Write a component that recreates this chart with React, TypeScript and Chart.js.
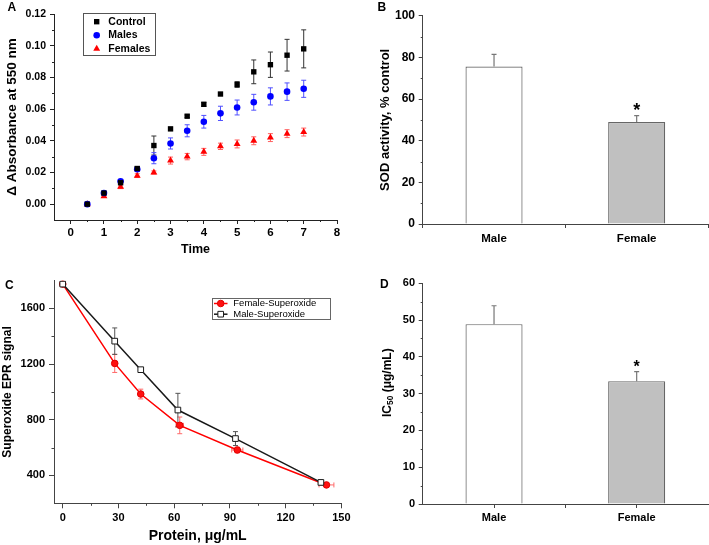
import React, { useEffect, useRef } from "react";
import { Chart, registerables } from "chart.js";

Chart.register(...registerables);

const FONT = "'Liberation Sans', Arial, Helvetica, sans-serif";
Chart.defaults.font.family = FONT;
Chart.defaults.color = "#000";

// ---------------- Panel A data ----------------
const timePoints = [0.5, 1, 1.5, 2, 2.5, 3, 3.5, 4, 4.5, 5, 5.5, 6, 6.5, 7];
const controlValues = [0, 0.007, 0.0135, 0.0225, 0.037, 0.0475, 0.0555, 0.063, 0.0695, 0.0755, 0.0835, 0.088, 0.094, 0.098];
const controlErrors = [0.0005, 0.0008, 0.001, 0.0012, 0.006, 0.001, 0.0008, 0.0012, 0.0008, 0.0018, 0.0075, 0.008, 0.010, 0.012];
const maleValues = [0, 0.007, 0.0145, 0.022, 0.029, 0.0383, 0.0463, 0.052, 0.0573, 0.061, 0.0643, 0.068, 0.071, 0.0728];
const maleErrors = [0.0005, 0.0008, 0.001, 0.0012, 0.0035, 0.0035, 0.0038, 0.004, 0.0045, 0.0047, 0.005, 0.0054, 0.0055, 0.0054];
const femaleValues = [0, 0.005, 0.011, 0.018, 0.020, 0.0275, 0.030, 0.033, 0.0365, 0.038, 0.040, 0.042, 0.0445, 0.0455];
const femaleErrors = [0.0005, 0.0008, 0.0012, 0.0012, 0.001, 0.0022, 0.002, 0.0022, 0.002, 0.0025, 0.0025, 0.0025, 0.0025, 0.0025];
const timeTicks = [0, 1, 2, 3, 4, 5, 6, 7, 8];
const timeMinorTicks = [0.5, 1.5, 2.5, 3.5, 4.5, 5.5, 6.5, 7.5];
const absorbanceTicks = [0, 0.02, 0.04, 0.06, 0.08, 0.10, 0.12];
const absorbanceMinorTicks = [0.01, 0.03, 0.05, 0.07, 0.09, 0.11];

// ---------------- Panel B data ----------------
const sexCategories = ["Male", "Female"];
const sodValues = [75.6, 49];
const sodErrors = [5.8, 3];
const sodTicks = [0, 20, 40, 60, 80, 100];
const sodMinorTicks = [10, 30, 50, 70, 90];

// ---------------- Panel C data ----------------
const femaleProtein = [0, 28, 42, 63, 94, 142];
const femaleEpr = [1775, 1205, 985, 760, 583, 332];
const femaleEprErr = [0, 65, 35, 60, 20, 10];
const femaleProteinErr = [0, 0, 0, 2, 3, 4];
const maleProtein = [0, 28, 42, 62, 93, 139];
const maleEpr = [1775, 1365, 1160, 870, 665, 350];
const maleEprErr = [0, 95, 15, 120, 50, 10];
const proteinTicks = [0, 30, 60, 90, 120, 150];
const proteinMinorTicks = [15, 45, 75, 105, 135];
const eprTicks = [400, 800, 1200, 1600];
const eprMinorTicks = [600, 1000, 1400];

// ---------------- Panel D data ----------------
const ic50Values = [48.9, 33.4];
const ic50Errors = [5, 2.6];
const ic50Ticks = [0, 10, 20, 30, 40, 50, 60];
const ic50MinorTicks = [5, 15, 25, 35, 45, 55];

// ---------------- plugins ----------------
function drawMarker(ctx, style, x, y, r, fill, stroke, bw) {
  ctx.beginPath();
  if (style === "rect") {
    const s = r * Math.SQRT1_2;
    ctx.rect(x - s, y - s, 2 * s, 2 * s);
  } else if (style === "triangle") {
    let rad = 0;
    ctx.moveTo(x + Math.sin(rad) * r, y - Math.cos(rad) * r);
    rad += (2 * Math.PI) / 3;
    ctx.lineTo(x + Math.sin(rad) * r, y - Math.cos(rad) * r);
    rad += (2 * Math.PI) / 3;
    ctx.lineTo(x + Math.sin(rad) * r, y - Math.cos(rad) * r);
    ctx.closePath();
  } else {
    ctx.arc(x, y, r, 0, Math.PI * 2);
  }
  ctx.fillStyle = fill;
  ctx.fill();
  if (bw) {
    ctx.lineWidth = bw;
    ctx.strokeStyle = stroke;
    ctx.stroke();
  }
}

const minorTicksPlugin = {
  id: "minorTicks",
  afterDraw(chart, _a, opts) {
    const ctx = chart.ctx;
    (opts.items || []).forEach((item) => {
      const scale = chart.scales[item.axis];
      ctx.save();
      ctx.strokeStyle = item.color;
      ctx.lineWidth = 1;
      item.values.forEach((v) => {
        const p = Math.round(scale.getPixelForValue(v)) + 0.5;
        ctx.beginPath();
        if (scale.isHorizontal()) {
          const y = scale.top;
          ctx.moveTo(p, y);
          ctx.lineTo(p, y + item.len);
        } else {
          const x = scale.right;
          ctx.moveTo(x - item.len, p);
          ctx.lineTo(x, p);
        }
        ctx.stroke();
      });
      ctx.restore();
    });
  },
};

function drawErrorBars(chart) {
  const ctx = chart.ctx;
  chart.data.datasets.forEach((ds, i) => {
    const eb = ds.errorBars;
    if (!eb) return;
    const meta = chart.getDatasetMeta(i);
    const xs = chart.scales[meta.xAxisID];
    const ys = chart.scales[meta.yAxisID];
    ctx.save();
    ctx.strokeStyle = eb.color;
    ctx.lineWidth = eb.width || 1;
    const cap = eb.cap || 2.5;
    meta.data.forEach((el, j) => {
      const raw = ds.data[j];
      const yv = typeof raw === "number" ? raw : raw.y;
      const px = el.x;
      const py = ys.getPixelForValue(yv);
      const ey = eb.y ? eb.y[j] : 0;
      if (ey) {
        const top = ys.getPixelForValue(yv + ey);
        const bot = eb.upOnly ? py : ys.getPixelForValue(yv - ey);
        ctx.beginPath();
        ctx.moveTo(px, top);
        ctx.lineTo(px, bot);
        ctx.moveTo(px - cap, top);
        ctx.lineTo(px + cap, top);
        if (!eb.upOnly) {
          ctx.moveTo(px - cap, bot);
          ctx.lineTo(px + cap, bot);
        }
        ctx.stroke();
      }
      const ex = eb.x ? eb.x[j] : 0;
      if (ex && typeof raw !== "number") {
        const l = xs.getPixelForValue(raw.x - ex);
        const r = xs.getPixelForValue(raw.x + ex);
        ctx.beginPath();
        ctx.moveTo(l, py);
        ctx.lineTo(r, py);
        ctx.moveTo(l, py - cap);
        ctx.lineTo(l, py + cap);
        ctx.moveTo(r, py - cap);
        ctx.lineTo(r, py + cap);
        ctx.stroke();
      }
    });
    ctx.restore();
  });
}

const errorBarsPlugin = {
  id: "errorBars",
  beforeDatasetsDraw(chart, _a, opts) {
    if (!opts.after) drawErrorBars(chart);
  },
  afterDatasetsDraw(chart, _a, opts) {
    if (opts.after) drawErrorBars(chart);
  },
};

const boxLegendPlugin = {
  id: "boxLegend",
  afterDraw(chart, _a, o) {
    if (!o || o.x == null) return;
    const ctx = chart.ctx;
    ctx.save();
    ctx.strokeStyle = o.borderColor;
    ctx.lineWidth = 1;
    ctx.strokeRect(Math.round(o.x) + 0.5, Math.round(o.y) + 0.5, o.w, o.h);
    chart.data.datasets.forEach((ds, i) => {
      const cy = o.firstRowY + i * o.rowGap;
      if (o.lineFrom != null) {
        ctx.beginPath();
        ctx.strokeStyle = ds.borderColor;
        ctx.lineWidth = ds.borderWidth;
        ctx.moveTo(o.lineFrom, cy);
        ctx.lineTo(o.lineTo, cy);
        ctx.stroke();
      }
      drawMarker(
        ctx,
        ds.pointStyle,
        o.markerX,
        cy,
        ds.pointRadius,
        ds.pointBackgroundColor || ds.backgroundColor,
        ds.pointBorderColor || ds.borderColor,
        ds.pointBorderWidth || 0
      );
      ctx.font = o.font;
      ctx.textBaseline = "middle";
      ctx.textAlign = "left";
      ctx.fillStyle = "#000";
      ctx.fillText(ds.label, o.textX, cy);
    });
    ctx.restore();
  },
};

const starPlugin = {
  id: "star",
  afterDatasetsDraw(chart, _a, o) {
    if (!o || o.dataset == null) return;
    const ds = chart.data.datasets[o.dataset];
    const el = chart.getDatasetMeta(o.dataset).data[o.index];
    const ys = chart.scales.y;
    const top = ys.getPixelForValue(ds.data[o.index] + ds.errorBars.y[o.index]);
    const ctx = chart.ctx;
    ctx.save();
    ctx.font = `bold ${o.size}px ${FONT}`;
    ctx.textAlign = "center";
    ctx.textBaseline = "alphabetic";
    ctx.fillStyle = "#000";
    ctx.fillText("*", el.x, top - o.gap + 0.57 * o.size);
    ctx.restore();
  },
};

const subTitlePlugin = {
  id: "subTitle",
  afterDraw(chart, _a, o) {
    if (!o || !o.parts) return;
    const ctx = chart.ctx;
    const ca = chart.chartArea;
    ctx.save();
    ctx.translate(o.x, (ca.top + ca.bottom) / 2 + o.dy);
    ctx.rotate(-Math.PI / 2);
    ctx.textBaseline = "middle";
    ctx.textAlign = "left";
    ctx.fillStyle = "#000";
    const fontFor = (p) => `bold ${p.sub ? o.size * 0.7 : o.size}px ${FONT}`;
    let total = 0;
    o.parts.forEach((p) => {
      ctx.font = fontFor(p);
      total += ctx.measureText(p.text).width;
    });
    let cx = -total / 2;
    o.parts.forEach((p) => {
      ctx.font = fontFor(p);
      ctx.fillText(p.text, cx, p.sub ? o.size * 0.3 : 0);
      cx += ctx.measureText(p.text).width;
    });
    ctx.restore();
  },
};

const allPlugins = [minorTicksPlugin, errorBarsPlugin, boxLegendPlugin, starPlugin, subTitlePlugin];

function fixedTicks(values) {
  return (s) => {
    s.ticks = values.map((v) => ({ value: v }));
  };
}

// ---------------- configs ----------------
function configA() {
  const axisColor = "#222";
  return {
    type: "scatter",
    data: {
      datasets: [
        {
          label: "Control",
          data: timePoints.map((x, i) => ({ x, y: controlValues[i] })),
          pointStyle: "rect",
          pointRadius: 3.8,
          backgroundColor: "#000",
          borderColor: "#000",
          pointBorderWidth: 0,
          borderWidth: 0,
          errorBars: { y: controlErrors, color: "#333", cap: 2.5 },
        },
        {
          label: "Males",
          data: timePoints.map((x, i) => ({ x, y: maleValues[i] })),
          pointStyle: "circle",
          pointRadius: 3.3,
          backgroundColor: "#0000ff",
          borderColor: "#0000ff",
          pointBorderWidth: 0,
          borderWidth: 0,
          errorBars: { y: maleErrors, color: "#5050ff", cap: 2.5 },
        },
        {
          label: "Females",
          data: timePoints.map((x, i) => ({ x, y: femaleValues[i] })),
          pointStyle: "triangle",
          pointRadius: 4,
          backgroundColor: "#ff0000",
          borderColor: "#ff0000",
          pointBorderWidth: 0,
          borderWidth: 0,
          errorBars: { y: femaleErrors, color: "#ff6060", cap: 2.5 },
        },
      ],
    },
    options: {
      responsive: false,
      animation: false,
      devicePixelRatio: 1,
      layout: { padding: { top: 14, right: 17, left: 0, bottom: 0 } },
      plugins: {
        legend: { display: false },
        tooltip: { enabled: false },
        minorTicks: {
          items: [
            { axis: "x", values: timeMinorTicks, len: 2, color: axisColor },
            { axis: "y", values: absorbanceMinorTicks, len: 2, color: axisColor },
          ],
        },
        boxLegend: {
          x: 83, y: 13, w: 72, h: 42,
          borderColor: "#555",
          firstRowY: 21.7, rowGap: 13.5,
          markerX: 96.7, textX: 108.3,
          font: `bold 10.5px ${FONT}`,
        },
      },
      scales: {
        x: {
          type: "linear",
          min: -0.5,
          max: 8,
          afterBuildTicks: fixedTicks(timeTicks),
          afterFit: (s) => { s.height = 50; },
          grid: { drawOnChartArea: false, tickLength: 4, color: axisColor },
          border: { color: axisColor, width: 1 },
          ticks: { font: { size: 11.5, weight: "bold" }, padding: 2, color: "#000", autoSkip: false, maxRotation: 0 },
          title: { display: true, text: "Time", font: { size: 12.5, weight: "bold" }, padding: { top: 0, bottom: 12.5 }, color: "#000" },
        },
        y: {
          type: "linear",
          min: -0.01,
          max: 0.12,
          afterBuildTicks: fixedTicks(absorbanceTicks),
          afterFit: (s) => { s.width = 54; },
          grid: { drawOnChartArea: false, tickLength: 4, color: axisColor },
          border: { color: axisColor, width: 1 },
          ticks: { font: { size: 10.5, weight: "bold" }, padding: 4, color: "#000", autoSkip: false, callback: (v) => Number(v).toFixed(2) },
          title: { display: true, text: "Δ Absorbance at 550 nm", font: { size: 13.5, weight: "bold" }, padding: { top: 4.5, bottom: 0 }, color: "#000" },
        },
      },
    },
    plugins: allPlugins,
  };
}

function barConfig(values, errors, ticks, minor, max, opts) {
  const axisColor = "#444";
  return {
    type: "bar",
    data: {
      labels: sexCategories,
      datasets: [
        {
          label: opts.label,
          data: values,
          backgroundColor: ["#ffffff", "#c0c0c0"],
          borderColor: "#666",
          borderWidth: 1.2,
          borderSkipped: "bottom",
          barPercentage: 0.4,
          categoryPercentage: 1,
          errorBars: { y: errors, color: "#777", upOnly: true, cap: 2.5, width: 1.2 },
        },
      ],
    },
    options: {
      responsive: false,
      animation: false,
      devicePixelRatio: 1,
      layout: { padding: { top: opts.padTop, right: 1, left: 0, bottom: 0 } },
      plugins: {
        legend: { display: false },
        tooltip: { enabled: false },
        errorBars: { after: true },
        minorTicks: {
          items: [
            { axis: "y", values: minor, len: 2, color: axisColor },
            ...(opts.xMinor ? [{ axis: "x", values: opts.xMinor, len: 4, color: axisColor }] : []),
          ],
        },
        star: { dataset: 0, index: 1, size: opts.starSize, gap: opts.starGap },
        subTitle: opts.subTitle || {},
      },
      scales: {
        x: {
          type: "category",
          offset: true,
          afterFit: (s) => { s.height = opts.xHeight; },
          grid: { drawOnChartArea: false, tickLength: 4, color: axisColor, offset: opts.gridOffset },
          border: { color: axisColor, width: 1 },
          ticks: { font: { size: opts.catSize, weight: "bold" }, padding: opts.catPad, color: "#000" },
        },
        y: {
          type: "linear",
          min: 0,
          max,
          afterBuildTicks: fixedTicks(ticks),
          afterFit: (s) => { s.width = 68.7; },
          grid: { drawOnChartArea: false, tickLength: 4, color: axisColor },
          border: { color: axisColor, width: 1 },
          ticks: { font: { size: opts.tickSize, weight: "bold" }, padding: 3.7, color: "#000", autoSkip: false },
          title: opts.yTitle
            ? { display: true, text: opts.yTitle, font: { size: 13, weight: "bold" }, padding: { top: 24, bottom: 0 }, color: "#000" }
            : { display: false },
        },
      },
    },
    plugins: allPlugins,
  };
}

function configB() {
  return barConfig(sodValues, sodErrors, sodTicks, sodMinorTicks, 100, {
    label: "SOD activity",
    padTop: 15.7,
    xHeight: 46,
    catSize: 11.5,
    catPad: 4,
    tickSize: 12,
    starSize: 18,
    starGap: 9.7,
    gridOffset: true,
    yTitle: "SOD activity, % control",
  });
}

function configD() {
  return barConfig(ic50Values, ic50Errors, ic50Ticks, ic50MinorTicks, 60, {
    label: "IC50",
    padTop: 13.3,
    xHeight: 41,
    catSize: 11,
    catPad: 3.3,
    tickSize: 11,
    starSize: 16,
    starGap: 9,
    gridOffset: false,
    xMinor: [0.5],
    subTitle: {
      x: 33.5,
      dy: -11,
      size: 12,
      parts: [
        { text: "IC", sub: false },
        { text: "50", sub: true },
        { text: " (μg/mL)", sub: false },
      ],
    },
  });
}

function configC() {
  const axisColor = "#444";
  return {
    type: "line",
    data: {
      datasets: [
        {
          label: "Female-Superoxide",
          data: femaleProtein.map((x, i) => ({ x, y: femaleEpr[i] })),
          borderColor: "#ff0000",
          borderWidth: 1.5,
          pointStyle: "circle",
          pointRadius: 3.3,
          pointBackgroundColor: "#ff1010",
          pointBorderColor: "#e00000",
          pointBorderWidth: 1,
          tension: 0,
          fill: false,
          order: 1,
          errorBars: { y: femaleEprErr, x: femaleProteinErr, color: "#ff6a6a", cap: 2.5 },
        },
        {
          label: "Male-Superoxide",
          data: maleProtein.map((x, i) => ({ x, y: maleEpr[i] })),
          borderColor: "#1a1a1a",
          borderWidth: 1.5,
          pointStyle: "rect",
          pointRadius: 4,
          pointBackgroundColor: "#ffffff",
          pointBorderColor: "#1a1a1a",
          pointBorderWidth: 1,
          tension: 0,
          fill: false,
          order: 0,
          errorBars: { y: maleEprErr, color: "#555", cap: 2.5 },
        },
      ],
    },
    options: {
      responsive: false,
      animation: false,
      devicePixelRatio: 1,
      layout: { padding: { top: 9.3, right: 12.3, left: 0, bottom: 0 } },
      plugins: {
        legend: { display: false },
        tooltip: { enabled: false },
        minorTicks: {
          items: [
            { axis: "x", values: proteinMinorTicks, len: 2.5, color: axisColor },
            { axis: "y", values: eprMinorTicks, len: 2.5, color: axisColor },
          ],
        },
        boxLegend: {
          x: 212, y: 28.3, w: 118, h: 21,
          borderColor: "#666",
          firstRowY: 33.5, rowGap: 10.7,
          markerX: 220.7, textX: 233.3,
          lineFrom: 214, lineTo: 227.5,
          font: `9.5px ${FONT}`,
        },
      },
      scales: {
        x: {
          type: "linear",
          min: -4.7,
          max: 150,
          afterBuildTicks: fixedTicks(proteinTicks),
          afterFit: (s) => { s.height = 41.7; },
          grid: { drawOnChartArea: false, tickLength: 5, color: axisColor },
          border: { color: axisColor, width: 1 },
          ticks: { font: { size: 11, weight: "bold" }, padding: 3.5, color: "#000", autoSkip: false, maxRotation: 0, callback: (v) => String(v) },
          title: { display: true, text: "Protein, μg/mL", font: { size: 14, weight: "bold" }, padding: { top: 0, bottom: 0 }, color: "#000" },
        },
        y: {
          type: "linear",
          min: 200,
          max: 1800,
          afterBuildTicks: fixedTicks(eprTicks),
          afterFit: (s) => { s.width = 54; },
          grid: { drawOnChartArea: false, tickLength: 5, color: axisColor },
          border: { color: axisColor, width: 1 },
          ticks: { font: { size: 11, weight: "bold" }, padding: 4, color: "#000", autoSkip: false, callback: (v) => String(v) },
          title: { display: true, text: "Superoxide EPR signal", font: { size: 12, weight: "bold" }, padding: { top: 0, bottom: 0 }, color: "#000" },
        },
      },
    },
    plugins: allPlugins,
  };
}

function Panel({ left, top, width, height, makeConfig }) {
  const ref = useRef(null);
  useEffect(() => {
    const chart = new Chart(ref.current.getContext("2d"), makeConfig());
    return () => chart.destroy();
  }, []);
  return (
    <canvas
      ref={ref}
      width={width}
      height={height}
      style={{ position: "absolute", left, top, width, height, display: "block" }}
    />
  );
}

const labelStyle = {
  position: "absolute",
  font: `bold 12px ${FONT}`,
  lineHeight: "14px",
  color: "#000",
};

export default function App() {
  return (
    <div style={{ position: "absolute", left: 0, top: 0, width: 709, height: 545, background: "#fff", overflow: "hidden" }}>
      <Panel left={0} top={0} width={354} height={270} makeConfig={configA} />
      <Panel left={354} top={0} width={355} height={270} makeConfig={configB} />
      <Panel left={0} top={270} width={354} height={275} makeConfig={configC} />
      <Panel left={354} top={270} width={355} height={275} makeConfig={configD} />
      <div style={{ ...labelStyle, left: 7.5, top: 0 }}>A</div>
      <div style={{ ...labelStyle, left: 377.5, top: 0 }}>B</div>
      <div style={{ ...labelStyle, left: 5, top: 278 }}>C</div>
      <div style={{ ...labelStyle, left: 380, top: 277 }}>D</div>
    </div>
  );
}
